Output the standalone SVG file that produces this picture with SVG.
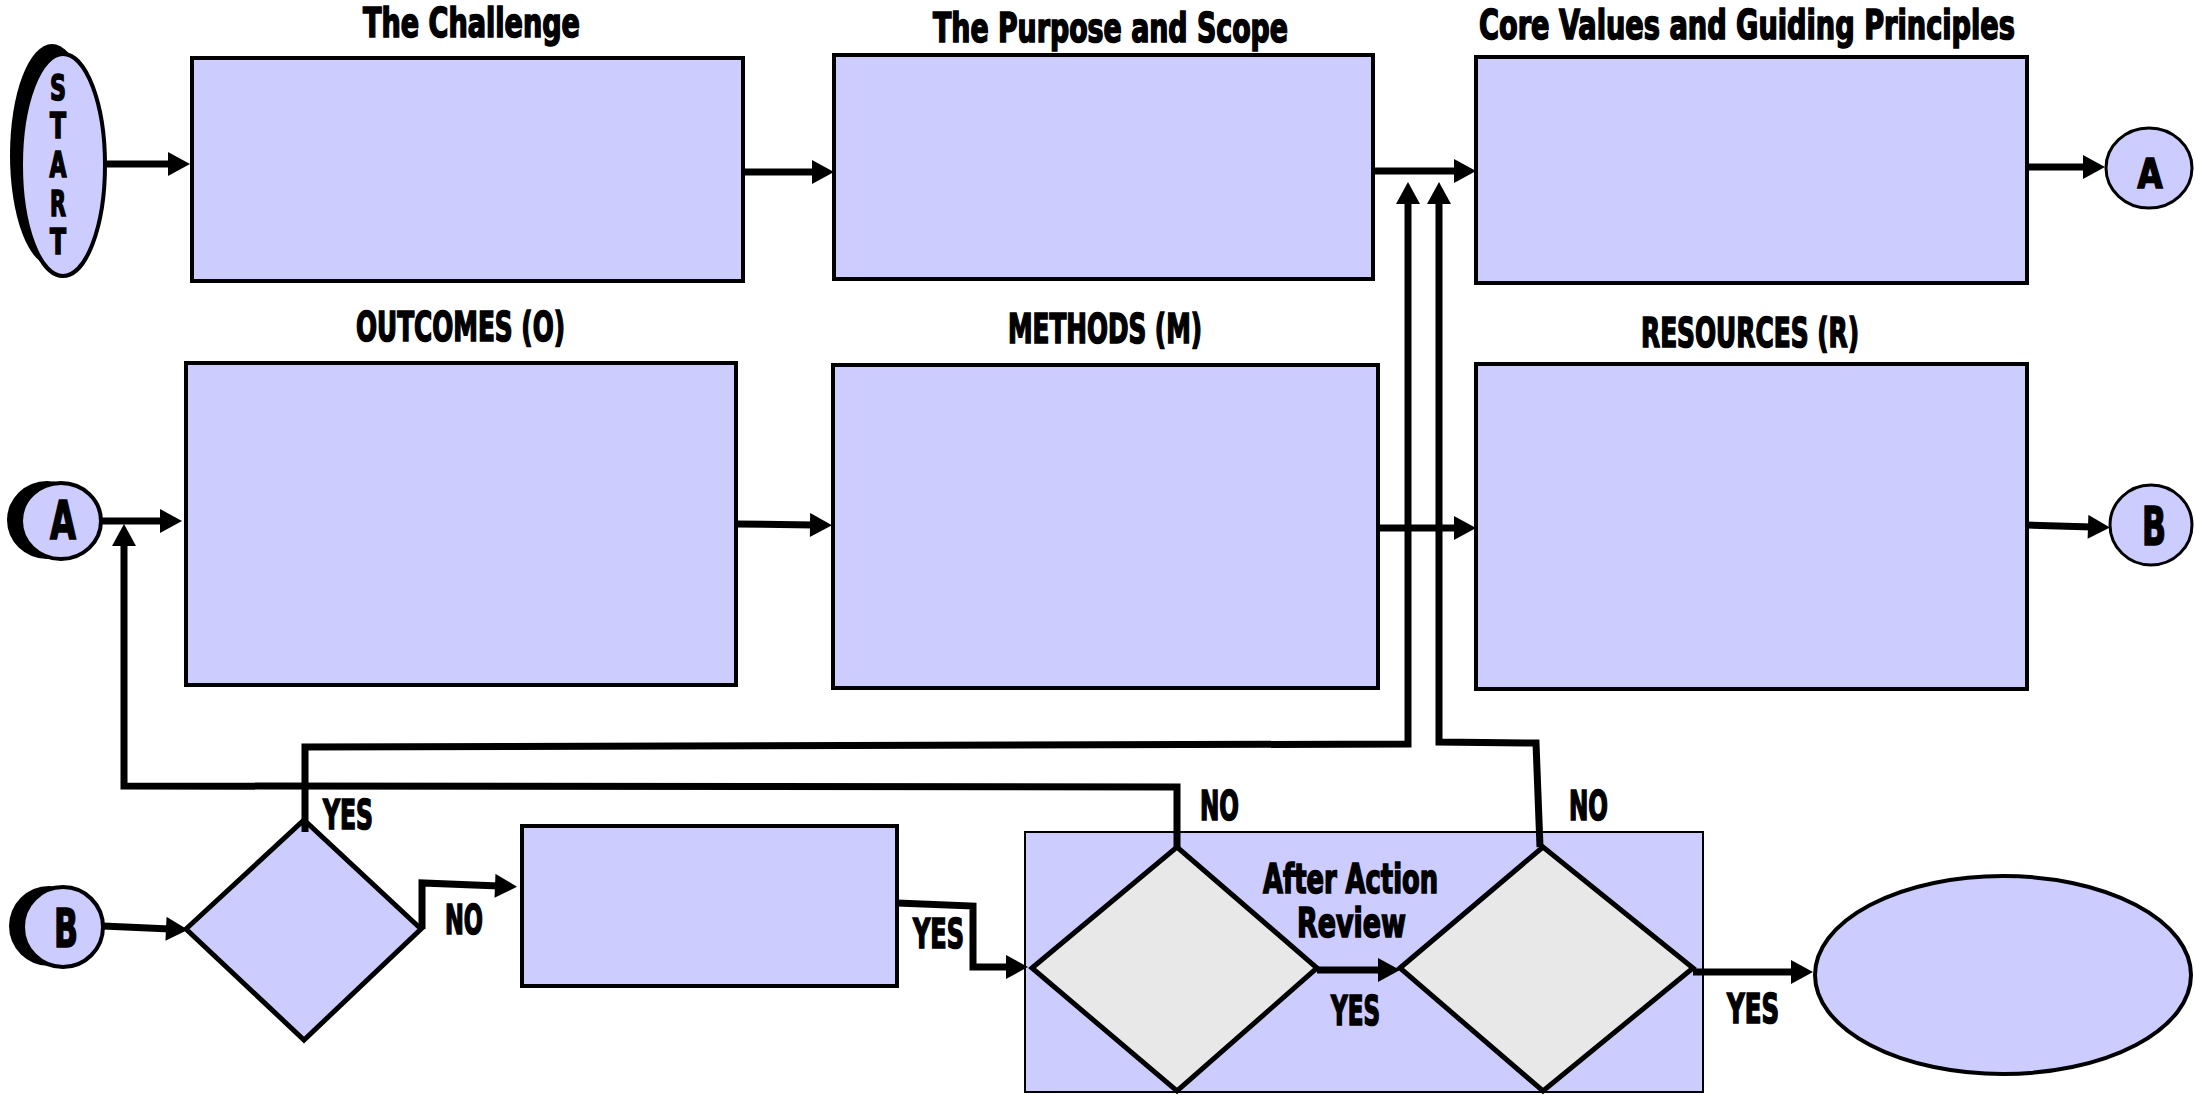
<svg xmlns="http://www.w3.org/2000/svg" width="2195" height="1095" viewBox="0 0 2195 1095">
<defs>
<style>
.box{fill:#ccccff;stroke:#000;stroke-width:4}
.dia1{fill:#ccccff;stroke:#000;stroke-width:5;stroke-linejoin:miter}
.dia2{fill:#e8e8e8;stroke:#000;stroke-width:5;stroke-linejoin:miter}
.cont{fill:#ccccff;stroke:#000;stroke-width:2}
.circ{fill:#ccccff;stroke:#000;stroke-width:4}
.shadow{fill:#000}
.t{font-family:"Liberation Sans Narrow","DejaVu Sans Condensed","Liberation Sans",Arial,sans-serif;font-weight:bold;font-size:40px;fill:#000;stroke:#000;stroke-width:1.6}
.big{font-size:54px}
.st{font-size:36px}
.conn{fill:none;stroke:#000;stroke-width:7;stroke-linejoin:miter;stroke-linecap:butt;marker-end:url(#arr)}
</style>
<marker id="arr" markerUnits="userSpaceOnUse" markerWidth="24" markerHeight="24" viewBox="0 0 22 24" refX="4" refY="12" orient="auto">
<path d="M0,0 L22,12 L0,24 z" fill="#000"/>
</marker>
</defs>

<g id="start">
<ellipse class="shadow" cx="52" cy="155" rx="42" ry="111"/>
<ellipse class="circ" cx="63" cy="165" rx="42" ry="111"/>
<text class="t st" x="58" y="100" text-anchor="middle" textLength="16" lengthAdjust="spacingAndGlyphs">S</text>
<text class="t st" x="58" y="138" text-anchor="middle" textLength="16" lengthAdjust="spacingAndGlyphs">T</text>
<text class="t st" x="58" y="177" text-anchor="middle" textLength="17" lengthAdjust="spacingAndGlyphs">A</text>
<text class="t st" x="58" y="216" text-anchor="middle" textLength="16" lengthAdjust="spacingAndGlyphs">R</text>
<text class="t st" x="58" y="254" text-anchor="middle" textLength="16" lengthAdjust="spacingAndGlyphs">T</text>
</g>

<g id="challenge">
<rect class="box" x="192" y="58" width="551" height="223"/>
<text class="t" x="363" y="37" textLength="217" lengthAdjust="spacingAndGlyphs">The Challenge</text>
</g>

<g id="purpose">
<rect class="box" x="834" y="55" width="539" height="224"/>
<text class="t" x="933" y="42" textLength="355" lengthAdjust="spacingAndGlyphs">The Purpose and Scope</text>
</g>

<g id="core">
<rect class="box" x="1476" y="57" width="551" height="226"/>
<text class="t" x="1479" y="39" textLength="536" lengthAdjust="spacingAndGlyphs">Core Values and Guiding Principles</text>
</g>

<g id="connA-right">
<ellipse class="circ" cx="2149" cy="168" rx="43" ry="40" style="stroke-width:3"/>
<text class="t" x="2150" y="188" text-anchor="middle" textLength="25" lengthAdjust="spacingAndGlyphs">A</text>
</g>

<g id="connA-left">
<ellipse class="shadow" cx="47" cy="520" rx="40" ry="39"/>
<ellipse class="circ" cx="61" cy="521" rx="40" ry="38"/>
<text class="t big" x="63" y="539" text-anchor="middle" textLength="26" lengthAdjust="spacingAndGlyphs">A</text>
</g>

<g id="outcomes">
<rect class="box" x="186" y="363" width="550" height="322"/>
<text class="t" x="356" y="341" textLength="209" lengthAdjust="spacingAndGlyphs">OUTCOMES (O)</text>
</g>

<g id="methods">
<rect class="box" x="833" y="365" width="545" height="323"/>
<text class="t" x="1008" y="343" textLength="194" lengthAdjust="spacingAndGlyphs">METHODS (M)</text>
</g>

<g id="resources">
<rect class="box" x="1476" y="364" width="551" height="325"/>
<text class="t" x="1641" y="347" textLength="218" lengthAdjust="spacingAndGlyphs">RESOURCES (R)</text>
</g>

<g id="connB-right">
<ellipse class="circ" cx="2151" cy="525" rx="41" ry="40" style="stroke-width:3"/>
<text class="t big" x="2154" y="545" text-anchor="middle" textLength="24" lengthAdjust="spacingAndGlyphs">B</text>
</g>

<g id="connB-left">
<ellipse class="shadow" cx="49" cy="926" rx="40" ry="40"/>
<ellipse class="circ" cx="63" cy="927" rx="40" ry="40"/>
<text class="t big" x="66" y="947" text-anchor="middle" textLength="24" lengthAdjust="spacingAndGlyphs">B</text>
</g>

<g id="decision1">
<polygon class="dia1" points="186,929 304,820 421,929 304,1040"/>
</g>

<g id="task">
<rect class="box" x="522" y="826" width="375" height="160"/>
</g>

<g id="aar">
<rect class="cont" x="1025" y="832" width="678" height="260"/>
<polygon class="dia2" points="1032,968 1177,847 1317,968 1177,1091"/>
<polygon class="dia2" points="1400,968 1543,847 1693,968 1543,1091"/>
<text class="t" x="1263" y="893" textLength="175" lengthAdjust="spacingAndGlyphs">After Action</text>
<text class="t" x="1297" y="937" textLength="109" lengthAdjust="spacingAndGlyphs">Review</text>
</g>

<g id="end">
<ellipse class="circ" cx="2003" cy="975" rx="188" ry="99"/>
</g>

<g id="connectors">
<path class="conn" d="M105,164 L172,164"/>
<path class="conn" d="M743,172 L816,172"/>
<path class="conn" d="M1373,171 L1458,171"/>
<path class="conn" d="M2027,167 L2087,167"/>
<path class="conn" d="M101,521 L164,521"/>
<path class="conn" d="M736,524 L814,525"/>
<path class="conn" d="M1378,528 L1458,528"/>
<path class="conn" d="M2027,525 L2092,527"/>
<path class="conn" d="M103,926 L170,929"/>
<path class="conn" d="M422,929 L422,883 L499,886"/>
<path class="conn" d="M897,903 L973,906 L973,967 L1010,967"/>
<path class="conn" d="M1317,970 L1382,970"/>
<path class="conn" d="M1693,972 L1795,972"/>
<path class="conn" d="M305,832 L305,747 L1408,744 L1408,200"/>
<path class="conn" d="M1177,847 L1177,787 L124,786 L124,542"/>
<path class="conn" d="M1540,847 L1536,743 L1439,742 L1439,200"/>
<text class="t" x="323" y="829" textLength="50" lengthAdjust="spacingAndGlyphs">YES</text>
<text class="t" x="445" y="934" textLength="38" lengthAdjust="spacingAndGlyphs">NO</text>
<text class="t" x="913" y="948" textLength="51" lengthAdjust="spacingAndGlyphs">YES</text>
<text class="t" x="1200" y="820" textLength="39" lengthAdjust="spacingAndGlyphs">NO</text>
<text class="t" x="1569" y="820" textLength="39" lengthAdjust="spacingAndGlyphs">NO</text>
<text class="t" x="1331" y="1025" textLength="49" lengthAdjust="spacingAndGlyphs">YES</text>
<text class="t" x="1727" y="1023" textLength="52" lengthAdjust="spacingAndGlyphs">YES</text>
</g>
</svg>
